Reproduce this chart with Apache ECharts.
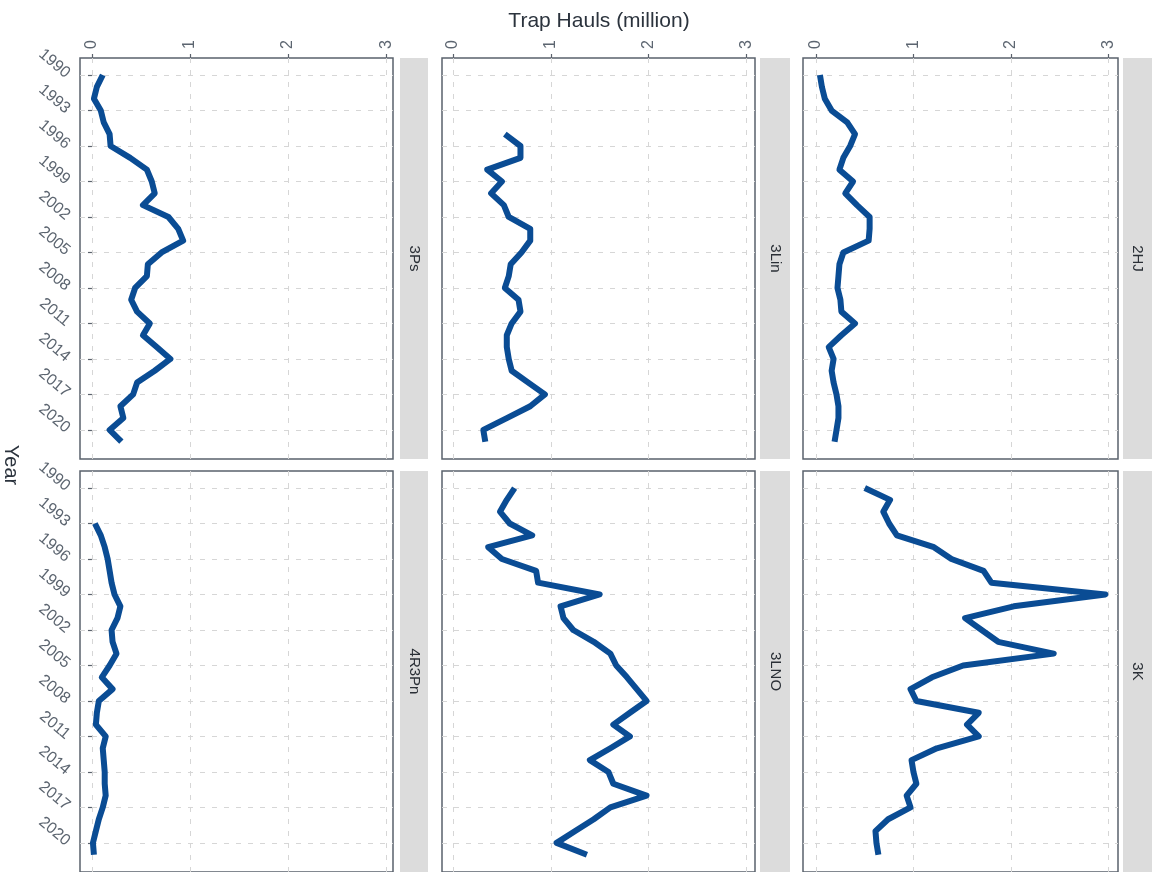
<!DOCTYPE html>
<html>
<head>
<meta charset="utf-8">
<script src="https://cdn.jsdelivr.net/npm/echarts@6/dist/echarts.min.js"></script>
<style>
html,body{margin:0;padding:0;background:#fff;}
#chart{width:1168px;height:872px;}
</style>
</head>
<body>
<div id="chart"></div>
<script>
// ---- data ----
const panelNames = ['3Ps', '4R3Pn', '3Lin', '3LNO', '2HJ', '3K'];
const yearTicks = [1990, 1993, 1996, 1999, 2002, 2005, 2008, 2011, 2014, 2017, 2020];
const valueTicks = [0, 1, 2, 3];

const yearsFull = [1990,1991,1992,1993,1994,1995,1996,1997,1998,1999,2000,2001,2002,2003,2004,2005,2006,2007,2008,2009,2010,2011,2012,2013,2014,2015,2016,2017,2018,2019,2020,2021];
const years3Lin = [1995,1996,1997,1998,1999,2000,2001,2002,2003,2004,2005,2006,2007,2008,2009,2010,2011,2012,2013,2014,2015,2016,2017,2018,2019,2020,2021];
const years4R3Pn = [1993,1994,1995,1996,1997,1998,1999,2000,2001,2002,2003,2004,2005,2006,2007,2008,2009,2010,2011,2012,2013,2014,2015,2016,2017,2018,2019,2020,2021];

const hauls2HJ = [0.04,0.06,0.09,0.16,0.32,0.40,0.35,0.28,0.24,0.38,0.30,0.42,0.55,0.55,0.54,0.28,0.24,0.23,0.22,0.25,0.26,0.40,0.26,0.13,0.18,0.16,0.18,0.21,0.23,0.23,0.21,0.19];
const hauls3K = [0.50,0.76,0.69,0.75,0.83,1.21,1.39,1.72,1.80,2.97,2.03,1.53,1.70,1.87,2.44,1.51,1.19,0.97,1.03,1.67,1.55,1.67,1.24,0.98,1.00,1.03,0.93,0.97,0.74,0.61,0.62,0.64];
const hauls3Lin = [0.53,0.69,0.69,0.35,0.50,0.39,0.52,0.57,0.79,0.79,0.70,0.59,0.57,0.53,0.67,0.69,0.60,0.55,0.55,0.57,0.60,0.77,0.94,0.79,0.55,0.31,0.33];
const hauls3LNO = [0.63,0.55,0.48,0.58,0.81,0.36,0.50,0.85,0.87,1.50,1.10,1.13,1.23,1.44,1.61,1.67,1.78,1.88,1.98,1.81,1.64,1.81,1.61,1.40,1.59,1.64,1.98,1.61,1.44,1.25,1.06,1.37];
const hauls3Ps = [0.11,0.05,0.02,0.09,0.12,0.18,0.19,0.39,0.56,0.61,0.64,0.52,0.78,0.88,0.93,0.71,0.57,0.56,0.44,0.40,0.46,0.59,0.52,0.66,0.80,0.64,0.46,0.42,0.29,0.32,0.18,0.30];
const hauls4R3Pn = [0.03,0.09,0.13,0.16,0.18,0.20,0.23,0.29,0.26,0.20,0.21,0.25,0.18,0.10,0.21,0.07,0.05,0.04,0.14,0.11,0.12,0.13,0.13,0.14,0.11,0.07,0.04,0.01,0.02];

const seriesYears = [yearsFull, years4R3Pn, years3Lin, yearsFull, yearsFull, yearsFull];
const seriesVals  = [hauls3Ps, hauls4R3Pn, hauls3Lin, hauls3LNO, hauls2HJ, hauls3K];

// ---- layout ----
const cols = [
  {left: 80,  width: 313, min: -0.122, max: 3.07, strip: 400, stripW: 28},
  {left: 442, width: 313, min: -0.113, max: 3.09, strip: 760, stripW: 30},
  {left: 803, width: 315, min: -0.134, max: 3.10, strip: 1123, stripW: 29}
];
const rows = [{top: 58, height: 401}, {top: 471, height: 401}];
const yMin = 1988.56, yMax = 2022.46;

const lineColor = '#0a4c94';
const textGray = '#5c6570';
const gridGray = '#d6d6d6';
const fontFam = '"Liberation Sans", Arial, sans-serif';

const grids = [], xAxes = [], yAxes = [], series = [], graphics = [];
for (let c = 0; c < 3; c++) {
  for (let r = 0; r < 2; r++) {
    const i = c * 2 + r;
    const col = cols[c], row = rows[r];
    grids.push({left: col.left, top: row.top, width: col.width, height: row.height,
      show: true, borderColor: '#5a626c', borderWidth: 1.5, backgroundColor: '#fff', containLabel: false});
    xAxes.push({
      gridIndex: i, type: 'value', position: 'top', min: col.min, max: col.max,
      axisLine: {show: false},
      axisTick: {show: r === 0, customValues: valueTicks, length: 4, lineStyle: {color: '#5a626c', width: 1.2}},
      axisLabel: {show: r === 0, customValues: valueTicks, rotate: -90, margin: 9,
        formatter: v => String(v),
        color: textGray, fontSize: 16, fontFamily: fontFam},
      splitLine: {show: true, lineStyle: {color: gridGray, width: 1, type: [5, 7]}}
    });
    yAxes.push({
      gridIndex: i, type: 'value', inverse: true, min: yMin, max: yMax,
      axisLine: {show: false},
      axisTick: {show: c === 0, customValues: yearTicks, length: 4, lineStyle: {color: '#5a626c', width: 1.2}},
      axisLabel: {show: c === 0, customValues: yearTicks, rotate: -40, margin: 12,
        formatter: v => String(v),
        color: textGray, fontSize: 16, fontFamily: fontFam},
      splitLine: {show: true, lineStyle: {color: gridGray, width: 1, type: [5, 7]}}
    });
    series.push({
      name: panelNames[i], type: 'line', xAxisIndex: i, yAxisIndex: i,
      data: seriesYears[i].map((y, k) => [seriesVals[i][k], y]),
      showSymbol: false, symbol: 'none', silent: true,
      lineStyle: {color: lineColor, width: 6, join: 'round', cap: 'butt'},
      z: 3
    });
    graphics.push({type: 'rect', shape: {x: col.strip, y: row.top, width: col.stripW, height: row.height},
      style: {fill: '#dcdcdc'}, silent: true});
    graphics.push({type: 'text', x: col.strip + col.stripW / 2, y: row.top + row.height / 2,
      rotation: -Math.PI / 2,
      style: {text: panelNames[i], fill: '#2a2f36', fontSize: 15, fontFamily: fontFam,
        textAlign: 'center', textVerticalAlign: 'middle'}, silent: true});
  }
}
graphics.push({type: 'text', x: 599, y: 21,
  style: {text: 'Trap Hauls (million)', fill: '#2b333d', fontSize: 21, fontFamily: fontFam,
    textAlign: 'center', textVerticalAlign: 'middle'}, silent: true});
graphics.push({type: 'text', x: 11, y: 465, rotation: -Math.PI / 2,
  style: {text: 'Year', fill: '#2b333d', fontSize: 20, fontFamily: fontFam,
    textAlign: 'center', textVerticalAlign: 'middle'}, silent: true});

const chart = echarts.init(document.getElementById('chart'), null, {renderer: 'canvas'});
chart.setOption({
  animation: false,
  backgroundColor: '#ffffff',
  grid: grids, xAxis: xAxes, yAxis: yAxes, series: series,
  graphic: graphics
});
</script>
</body>
</html>
